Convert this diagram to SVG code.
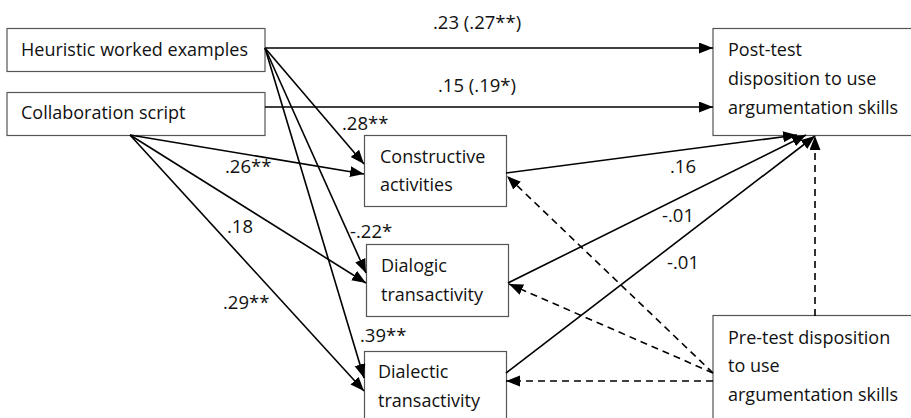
<svg xmlns="http://www.w3.org/2000/svg" width="911" height="418" viewBox="0 0 911 418">
<defs>
<marker id="ah" markerUnits="userSpaceOnUse" markerWidth="15" markerHeight="12" refX="14" refY="5.5" orient="auto">
<path d="M0,0 L14,5.5 L0,11 Z" fill="#000"/>
</marker>
<style>
.box{fill:#fff;stroke:#555;stroke-width:1.2}
.t{font-family:"Open Sans","Liberation Sans",sans-serif;font-size:18px;fill:#111}
.l{font-family:"Open Sans","Liberation Sans",sans-serif;font-size:18.5px;fill:#111}
.c{fill:none;stroke:#000;stroke-width:1.6;marker-end:url(#ah)}
.d{fill:none;stroke:#000;stroke-width:1.6;stroke-dasharray:7 5;marker-end:url(#ah)}
</style>
</defs>
<rect width="911" height="418" fill="#fff"/>
<g id="heuristic"><rect class="box" x="7" y="28.5" width="258" height="43"/><text class="t" x="21" y="56">Heuristic worked examples</text></g>
<g id="collab"><rect class="box" x="7" y="92.5" width="258" height="43"/><text class="t" x="21" y="119">Collaboration script</text></g>
<g id="posttest"><rect class="box" x="713" y="28.5" width="200" height="107"/><text class="t" x="728" y="56">Post-test</text><text class="t" x="728" y="85">disposition to use</text><text class="t" x="728" y="114">argumentation skills</text></g>
<g id="constructive"><rect class="box" x="364.5" y="135.5" width="142" height="71"/><text class="t" x="380" y="163">Constructive</text><text class="t" x="380" y="191">activities</text></g>
<g id="dialogic"><rect class="box" x="366.5" y="244.5" width="142" height="72"/><text class="t" x="381" y="272">Dialogic</text><text class="t" x="381" y="301">transactivity</text></g>
<g id="dialectic"><rect class="box" x="364.5" y="351.5" width="142" height="80"/><text class="t" x="378" y="378">Dialectic</text><text class="t" x="378" y="407">transactivity</text></g>
<g id="pretest"><rect class="box" x="713" y="315.5" width="200" height="110"/><text class="t" x="728" y="344">Pre-test disposition</text><text class="t" x="728" y="372">to use</text><text class="t" x="728" y="401">argumentation skills</text></g>
<g id="connectors">
<line class="c" x1="265" y1="48" x2="713" y2="48"/>
<line class="c" x1="265" y1="107" x2="713" y2="107"/>
<line class="c" x1="265" y1="48" x2="364" y2="164"/>
<line class="c" x1="265" y1="48" x2="366" y2="273"/>
<line class="c" x1="265" y1="48" x2="364" y2="378"/>
<line class="c" x1="130" y1="135" x2="364" y2="174"/>
<line class="c" x1="130" y1="135" x2="366" y2="283"/>
<line class="c" x1="130" y1="135" x2="364" y2="391"/>
<line class="c" x1="506" y1="173" x2="797" y2="135"/>
<line class="c" x1="508" y1="283" x2="806" y2="135"/>
<line class="c" x1="506" y1="373" x2="815" y2="136"/>
<line class="d" x1="713" y1="373" x2="507" y2="176"/>
<line class="d" x1="713" y1="373" x2="509" y2="284"/>
<line class="d" x1="713" y1="381" x2="506" y2="381"/>
<line class="d" x1="815" y1="316" x2="815" y2="136"/>
</g>
<g id="labels">
<text class="l" x="433" y="29">.23 (.27**)</text>
<text class="l" x="438" y="92">.15 (.19*)</text>
<text class="l" x="342" y="130">.28**</text>
<text class="l" x="225" y="173">.26**</text>
<text class="l" x="227" y="233">.18</text>
<text class="l" x="350" y="238">-.22*</text>
<text class="l" x="223" y="309">.29**</text>
<text class="l" x="360" y="342">.39**</text>
<text class="l" x="670" y="173">.16</text>
<text class="l" x="662" y="222">-.01</text>
<text class="l" x="667" y="269">-.01</text>
</g>
</svg>
